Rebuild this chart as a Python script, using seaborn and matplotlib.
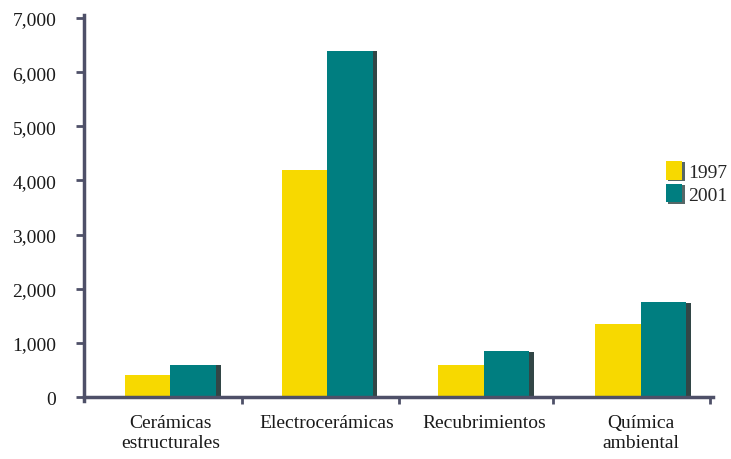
import matplotlib
matplotlib.use("Agg")
import matplotlib.pyplot as plt
import matplotlib.patheffects as pe
from matplotlib.patches import Patch
import seaborn as sns
import pandas as pd

# Valores por segmento de mercado (millones)
categorias = ["Cerámicas\nestructurales", "Electrocerámicas", "Recubrimientos", "Química\nambiental"]
valores_1997 = [400, 4200, 600, 1350]
valores_2001 = [600, 6400, 850, 1750]
anios = ["1997", "2001"]
colores = ["#F7D900", "#007E80"]
ticks_y = [0, 1000, 2000, 3000, 4000, 5000, 6000, 7000]

df = pd.DataFrame({
    "categoria": categorias * 2,
    "valor": valores_1997 + valores_2001,
    "anio": [anios[0]] * len(categorias) + [anios[1]] * len(categorias),
})

sns.set_style("white")
plt.rcParams["font.family"] = ["Liberation Serif", "DejaVu Serif"]
plt.rcParams["font.size"] = 14

eje = "#4E5068"

fig = plt.figure(figsize=(7.31, 4.60), dpi=100)
ax = fig.add_axes([0.115, 0.1265, 0.86, 0.838])

sns.barplot(data=df, x="categoria", y="valor", hue="anio", order=categorias,
            hue_order=anios, palette=colores, width=0.58, saturation=1,
            linewidth=0, ax=ax, legend=False)

# Sombra oscura a la derecha de cada barra
sombra = [pe.SimplePatchShadow(offset=(3.5, -0.5), shadow_rgbFace="#0e2626", alpha=0.85),
          pe.Normal()]
for barra in ax.patches:
    barra.set_path_effects(sombra)

ax.set_xlim(-0.55, 3.46)
ax.set_ylim(-70, 7050)
ax.set_xlabel("")
ax.set_ylabel("")

for lado in ["top", "right"]:
    ax.spines[lado].set_visible(False)
ax.spines["bottom"].set_position(("data", 0))
for lado in ["left", "bottom"]:
    ax.spines[lado].set_color(eje)
    ax.spines[lado].set_linewidth(2.5)

ax.set_yticks(ticks_y)
ax.set_yticklabels([f"{v:,}" for v in ticks_y])
ax.tick_params(axis="y", direction="out", length=6, width=2, color=eje,
               left=True, pad=14, labelcolor="#1a1a1a")

ax.set_xticks(range(len(categorias)))
ax.set_xticklabels(categorias, linespacing=1.25)
ax.tick_params(axis="x", which="major", length=0, pad=12, labelcolor="#1a1a1a")
ax.set_xticks([0.46, 1.46, 2.44, 3.44], minor=True)
ax.tick_params(axis="x", which="minor", direction="out", length=5, width=2,
               color=eje, bottom=True)

manejadores = [Patch(facecolor=c, edgecolor="none",
                     path_effects=[pe.SimplePatchShadow(offset=(2, -1), shadow_rgbFace="#0e2626",
                                                        alpha=0.7), pe.Normal()])
               for c in colores]
fig.legend(manejadores, anios, loc="upper left", bbox_to_anchor=(0.9, 0.665),
           frameon=False, handlelength=0.85, handleheight=1.1, handletextpad=0.3,
           labelspacing=0.15, borderaxespad=0, fontsize=14)

fig.savefig("out.png", dpi=100, facecolor="white")
